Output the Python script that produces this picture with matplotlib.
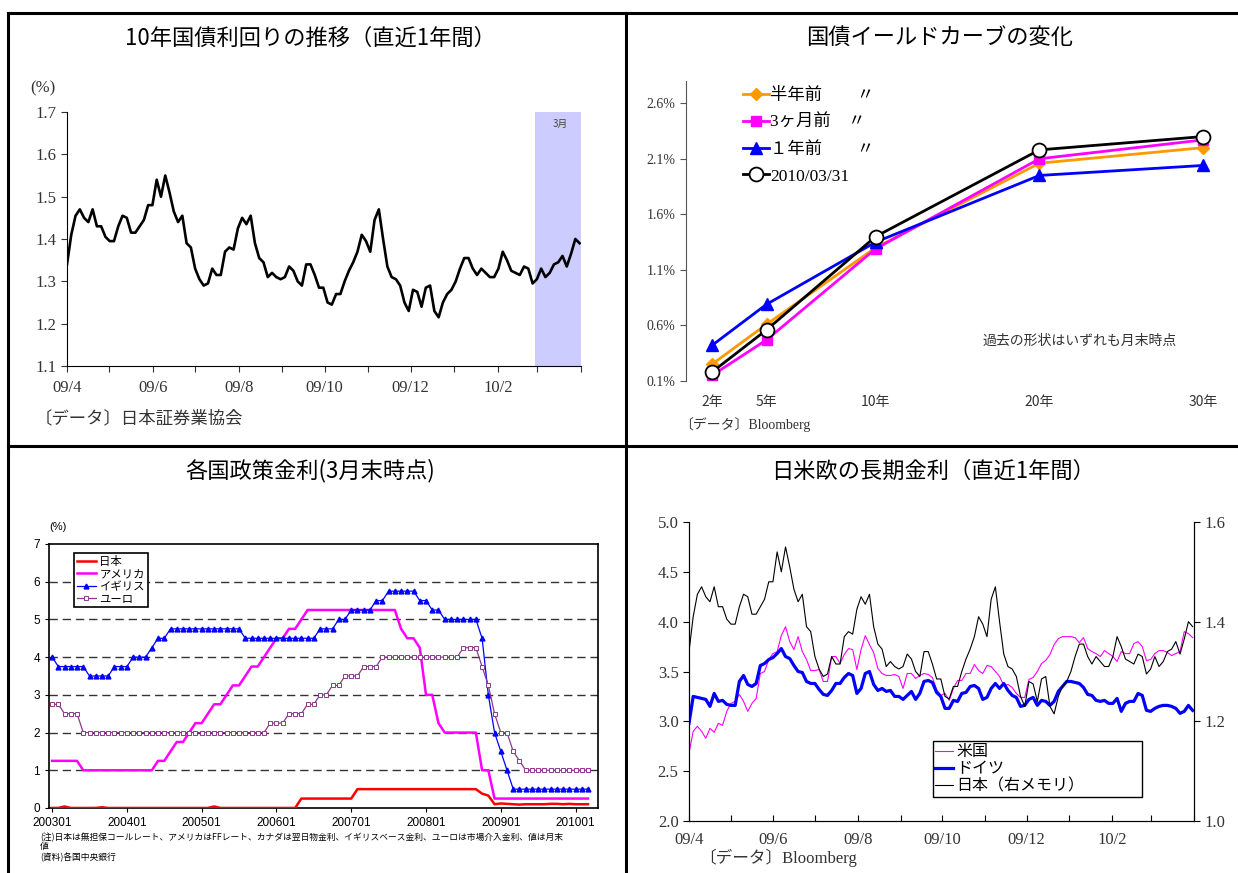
import numpy as np
import pandas as pd
import matplotlib
matplotlib.use('Agg')
import matplotlib.pyplot as plt
from matplotlib.lines import Line2D

plt.rcParams['font.family'] = ['Liberation Serif', 'Noto Sans CJK JP', 'DejaVu Sans']
JP = ['Noto Sans CJK JP', 'DejaVu Sans']
GOTHIC = ['Liberation Sans', 'Noto Sans CJK JP', 'DejaVu Sans']

# 10年国債利回り / 米国 / ドイツ (2009/4 - 2010/3, ~10 obs per month)
jgb10 = [1.34, 1.41, 1.455, 1.47, 1.45, 1.44, 1.47, 1.43, 1.43, 1.405,
         1.395, 1.395, 1.43, 1.455, 1.45, 1.415, 1.415, 1.43, 1.445, 1.48,
         1.48, 1.54, 1.50, 1.55, 1.51, 1.465, 1.44, 1.455, 1.39, 1.38,
         1.33, 1.305, 1.29, 1.295, 1.33, 1.315, 1.315, 1.37, 1.38, 1.375,
         1.425, 1.45, 1.435, 1.455, 1.39, 1.355, 1.345, 1.31, 1.32, 1.31,
         1.305, 1.31, 1.335, 1.325, 1.30, 1.29, 1.34, 1.34, 1.315, 1.285,
         1.285, 1.25, 1.245, 1.27, 1.27, 1.30, 1.325, 1.345, 1.37, 1.41,
         1.395, 1.37, 1.445, 1.47, 1.40, 1.335, 1.31, 1.305, 1.29, 1.25,
         1.23, 1.28, 1.275, 1.24, 1.285, 1.29, 1.23, 1.215, 1.25, 1.27,
         1.28, 1.30, 1.33, 1.355, 1.355, 1.33, 1.315, 1.33, 1.32, 1.31,
         1.31, 1.33, 1.37, 1.35, 1.325, 1.32, 1.315, 1.335, 1.33, 1.295,
         1.305, 1.33, 1.31, 1.32, 1.34, 1.345, 1.36, 1.335, 1.365, 1.40,
         1.39]
ust10 = [2.68, 2.90, 2.95, 2.90, 2.83, 2.93, 2.89, 2.98, 2.96, 3.10,
         3.18, 3.20, 3.27, 3.20, 3.10, 3.18, 3.23, 3.48, 3.50, 3.62,
         3.68, 3.70, 3.86, 3.95, 3.80, 3.72, 3.85, 3.70, 3.62, 3.51,
         3.51, 3.52, 3.40, 3.40, 3.65, 3.65, 3.58, 3.67, 3.73, 3.72,
         3.52, 3.72, 3.86, 3.77, 3.69, 3.53, 3.48, 3.46, 3.46, 3.47,
         3.45, 3.33, 3.48, 3.48, 3.43, 3.46, 3.48, 3.47, 3.44, 3.32,
         3.26, 3.28, 3.21, 3.33, 3.41, 3.41, 3.48, 3.48, 3.57, 3.51,
         3.48, 3.56, 3.55, 3.50, 3.45, 3.36, 3.37, 3.34, 3.28, 3.24,
         3.24, 3.42, 3.44, 3.50, 3.58, 3.61, 3.67, 3.77, 3.83, 3.85,
         3.85, 3.85, 3.84, 3.79, 3.84, 3.73, 3.70, 3.68, 3.65, 3.71,
         3.68, 3.65, 3.60, 3.70, 3.68, 3.68, 3.78, 3.80, 3.75, 3.61,
         3.62, 3.68, 3.71, 3.71, 3.69, 3.66, 3.68, 3.70, 3.90, 3.88,
         3.84]
bund10 = [2.98, 3.25, 3.24, 3.23, 3.22, 3.15, 3.28, 3.20, 3.21, 3.17,
          3.16, 3.16, 3.40, 3.46, 3.37, 3.35, 3.38, 3.56, 3.58, 3.62,
          3.64, 3.68, 3.73, 3.65, 3.63, 3.56, 3.50, 3.49, 3.40, 3.38,
          3.38, 3.32, 3.27, 3.26, 3.31, 3.38, 3.38, 3.44, 3.48, 3.46,
          3.28, 3.33, 3.48, 3.50, 3.37, 3.31, 3.33, 3.30, 3.31, 3.25,
          3.25, 3.22, 3.26, 3.30, 3.22, 3.28, 3.40, 3.41, 3.39, 3.29,
          3.25, 3.13, 3.13, 3.21, 3.20, 3.28, 3.29, 3.35, 3.36, 3.33,
          3.22, 3.24, 3.33, 3.38, 3.33, 3.38, 3.31, 3.26, 3.24, 3.15,
          3.16, 3.22, 3.24, 3.16, 3.21, 3.20, 3.16, 3.20, 3.30, 3.35,
          3.40, 3.40, 3.39, 3.38, 3.34, 3.27, 3.26, 3.21, 3.20, 3.21,
          3.18, 3.18, 3.23, 3.10, 3.18, 3.20, 3.20, 3.28, 3.26, 3.11,
          3.10, 3.13, 3.15, 3.16, 3.16, 3.15, 3.13, 3.08, 3.10, 3.16,
          3.11]
obs_dates = pd.date_range('2009-04-01', '2010-03-31', periods=len(jgb10))

# イールドカーブ
tenors = ['2年', '5年', '10年', '20年', '30年']
curve_6m = [0.25, 0.61, 1.30, 2.06, 2.20]
curve_3m = [0.15, 0.47, 1.29, 2.10, 2.27]
curve_1y = [0.42, 0.79, 1.35, 1.95, 2.04]
curve_now = [0.18, 0.56, 1.40, 2.18, 2.30]
curve_labels = ['半年前\u3000\u3000〃', '3ヶ月前\u3000〃', '１年前\u3000\u3000〃', '2010/03/31']

# 各国政策金利 (月末, 2003/01 - 2010/03)
rate_months = pd.date_range('2003-01-31', '2010-03-31', freq='ME')
rate_jp = ([0.002, 0.002, 0.04, 0.001, 0.001, 0.001, 0.001, 0.002, 0.02, 0.001, 0.001, 0.001]
           + [0.001] * 14 + [0.04] + [0.001] * 13
           + [0.25] * 9 + [0.5] * 20
           + [0.38, 0.33, 0.10, 0.12, 0.11, 0.10, 0.09, 0.10, 0.10, 0.10, 0.10,
              0.11, 0.11, 0.10, 0.11, 0.10, 0.10, 0.10])
rate_us = ([1.25] * 5 + [1.0] * 12 + [1.25] * 2 + [1.5] + [1.75] * 2 + [2.0]
           + [2.25] * 2 + [2.5] + [2.75] * 2 + [3.0] + [3.25] * 2 + [3.5]
           + [3.75] * 2 + [4.0] + [4.25] + [4.5] * 2 + [4.75] * 2 + [5.0]
           + [5.25] * 15 + [4.75] + [4.5] * 2 + [4.25] + [3.0] * 2 + [2.25]
           + [2.0] * 6 + [1.0] * 2 + [0.25] * 16)
rate_uk = ([4.0] + [3.75] * 5 + [3.5] * 4 + [3.75] * 3 + [4.0] * 3 + [4.25]
           + [4.5] * 2 + [4.75] * 12 + [4.5] * 12 + [4.75] * 3 + [5.0] * 2
           + [5.25] * 4 + [5.5] * 2 + [5.75] * 5 + [5.5] * 2 + [5.25] * 2
           + [5.0] * 6 + [4.5, 3.0, 2.0, 1.5, 1.0] + [0.5] * 13)
rate_eu = ([2.75] * 2 + [2.5] * 3 + [2.0] * 30 + [2.25] * 3 + [2.5] * 3
           + [2.75] * 2 + [3.0] * 2 + [3.25] * 2 + [3.5] * 3 + [3.75] * 3
           + [4.0] * 13 + [4.25] * 3 + [3.75, 3.25, 2.5] + [2.0] * 2
           + [1.5, 1.25] + [1.0] * 11)
rate_names = ['日本', 'アメリカ', 'イギリス', 'ユーロ']

W, H = 1238, 873
fig = plt.figure(figsize=(W / 100, H / 100), dpi=100)


def box(l, t, r, b):
    return [l / W, 1 - b / H, (r - l) / W, (b - t) / H]


month_ticks = pd.date_range('2009-04-01', '2010-04-01', freq='MS')
month_labels = [f"{d:%y}/{d.month}" if i % 2 == 0 and i < 12 else '' for i, d in enumerate(month_ticks)]

# ---- 10年国債利回りの推移
ax1 = fig.add_axes(box(67, 112, 581, 366))
ax1.axvspan(pd.Timestamp('2010-02-27'), pd.Timestamp('2010-04-01'), color='#CCCCFF', lw=0)
ax1.plot(obs_dates, jgb10, color='black', lw=1.9)
ax1.text(pd.Timestamp('2010-03-17'), 1.665, '3月', fontsize=7, color='#444444', family=JP, ha='center')
ax1.set_xlim(month_ticks[0], month_ticks[-1])
ax1.set_ylim(1.1, 1.7)
ax1.set_xticks(month_ticks)
ax1.set_xticklabels(month_labels)
ax1.set_yticks(np.arange(1.1, 1.71, 0.1))
ax1.set_yticklabels([f"{v:.1f}" for v in np.arange(1.1, 1.71, 0.1)])
ax1.tick_params(labelsize=12, length=4, color='#333333', labelcolor='#333333')
ax1.tick_params(axis='x', pad=6)
for s in ['top', 'right']:
    ax1.spines[s].set_visible(False)
fig.text(310 / W, 1 - 38 / H, '10年国債利回りの推移（直近1年間）', fontsize=16, family=JP, ha='center', va='center')
fig.text(30 / W, 1 - 88 / H, '(%)', fontsize=12, va='center', color='#333333')
fig.text(35 / W, 1 - 418 / H, '〔データ〕日本証券業協会', fontsize=12.5, family=JP, va='center', color='#333333')

# ---- 国債イールドカーブの変化
x_slot = [0, 1, 3, 6, 9]  # Excel category slots
ax2 = fig.add_axes(box(686, 81, 1225, 381))
ax2.plot(x_slot, curve_6m, color='#FF9900', lw=2, marker='D', ms=6, clip_on=False, label=curve_labels[0])
ax2.plot(x_slot, curve_3m, color='#FF00FF', lw=2, marker='s', ms=7, clip_on=False, label=curve_labels[1])
ax2.plot(x_slot, curve_1y, color='#0000FF', lw=2, marker='^', ms=8, clip_on=False, label=curve_labels[2])
ax2.plot(x_slot, curve_now, color='black', lw=2, marker='o', ms=10, mfc='white', mec='black', mew=1.3,
         clip_on=False, label=curve_labels[3])
ax2.set_xlim(-0.475, 9.4)
ax2.set_ylim(0.1, 2.8)
ax2.set_xticks(x_slot)
ax2.set_xticklabels(tenors, family=JP)
yt = [0.1, 0.6, 1.1, 1.6, 2.1, 2.6]
ax2.set_yticks(yt)
ax2.set_yticklabels([f"{v:.1f}%" for v in yt])
ax2.tick_params(axis='y', labelsize=10, length=4, color='#555555', labelcolor='#333333')
ax2.tick_params(axis='x', labelsize=10, length=0, pad=10, labelcolor='#333333')
for s in ['top', 'right', 'bottom']:
    ax2.spines[s].set_visible(False)
ax2.spines['left'].set_color('#555555')
leg2 = ax2.legend(loc='upper left', bbox_to_anchor=(0.105, 0.978), frameon=False, fontsize=12.5,
                  handlelength=1.5, handletextpad=0.1, labelspacing=0.62, borderpad=0, borderaxespad=0)
fig.text(940 / W, 1 - 38 / H, '国債イールドカーブの変化', fontsize=16, family=JP, ha='center', va='center')
fig.text(1080 / W, 1 - 341 / H, '過去の形状はいずれも月末時点', fontsize=10, family=JP, ha='center', va='center',
         color='#333333')
fig.text(679 / W, 1 - 425 / H, '〔データ〕Bloomberg', fontsize=10, va='center', color='#333333')

# ---- 各国政策金利
ax3 = fig.add_axes(box(49, 544, 598, 808))
xr = np.arange(len(rate_months))
for v in range(1, 7):
    ax3.axhline(v, color='#333333', lw=1.0, ls=(0, (6, 3.5)), zorder=1)
ax3.plot(xr, rate_jp, color='#FF0000', lw=1.8, label=rate_names[0], zorder=3)
ax3.plot(xr, rate_us, color='#FF00FF', lw=1.8, label=rate_names[1], zorder=3)
ax3.plot(xr, rate_uk, color='#0000FF', lw=0.9, marker='^', ms=3.5, label=rate_names[2], zorder=3)
ax3.plot(xr, rate_eu, color='#8B3A8B', lw=0.9, marker='s', ms=3.2, mfc='white', mec='#8B3A8B', mew=0.7,
         label=rate_names[3], zorder=3)
ax3.set_xlim(-0.5, 87.6)
ax3.set_ylim(0, 7)
jan = [i for i, d in enumerate(rate_months) if d.month == 1]
ax3.set_xticks(jan)
ax3.set_xticklabels([rate_months[i].strftime('%Y%m') for i in jan], family=GOTHIC)
ax3.set_yticks(range(8))
ax3.set_yticklabels([str(v) for v in range(8)], family=GOTHIC)
ax3.tick_params(labelsize=8.5, length=3, width=0.8)
for s in ax3.spines.values():
    s.set_linewidth(1.2)
leg3 = ax3.legend(loc='upper left', bbox_to_anchor=(0.045, 0.966), fancybox=False,
                  edgecolor='black', framealpha=1, handlelength=1.7, handletextpad=0.3, labelspacing=0.2,
                  borderpad=0.25, borderaxespad=0, prop={'family': JP, 'size': 8.2})
leg3.get_frame().set_linewidth(1.2)
fig.text(310 / W, 1 - 471 / H, '各国政策金利(3月末時点)', fontsize=16, family=JP, ha='center', va='center')
fig.text(49 / W, 1 - 527 / H, '(%)', fontsize=8, family=GOTHIC, va='center')
fig.text(40 / W, 1 - 837 / H,
         '(注)日本は無担保コールレート、アメリカはFFレート、カナダは翌日物金利、イギリスベース金利、ユーロは市場介入金利、値は月末',
         fontsize=6.3, family=JP, va='center')
fig.text(40 / W, 1 - 847 / H, '値', fontsize=6.3, family=JP, va='center')
fig.text(40 / W, 1 - 857 / H, '(資料)各国中央銀行', fontsize=6.3, family=JP, va='center')

# ---- 日米欧の長期金利
ax4 = fig.add_axes(box(689, 522, 1194, 821))
l_us, = ax4.plot(obs_dates, ust10, color='#FF00FF', lw=0.8, label='米国')
l_de, = ax4.plot(obs_dates, bund10, color='#0000FF', lw=2.3, label='ドイツ')
ax4r = ax4.twinx()
l_jp, = ax4r.plot(obs_dates, jgb10, color='black', lw=0.8, label='日本（右メモリ）')
ax4.set_xlim(month_ticks[0], month_ticks[-1])
ax4.set_ylim(2.0, 5.0)
ax4r.set_ylim(1.0, 1.6)
ax4.set_xticks(month_ticks)
ax4.set_xticklabels(month_labels)
lt = np.arange(2.0, 5.01, 0.5)
ax4.set_yticks(lt)
ax4.set_yticklabels([f"{v:.1f}" for v in lt])
rt = np.arange(1.0, 1.61, 0.2)
ax4r.set_yticks(rt)
ax4r.set_yticklabels([f"{v:.1f}" for v in rt])
ax4.tick_params(labelsize=12, length=4, labelcolor='#333333')
ax4.tick_params(axis='x', direction='in', pad=8)
ax4r.tick_params(labelsize=12, length=4, labelcolor='#333333')
ax4.spines['top'].set_visible(False)
ax4r.spines['top'].set_visible(False)
leg4 = ax4r.legend([l_us, l_de, l_jp], ['米国', 'ドイツ', '日本（右メモリ）'], loc='upper left',
                   bbox_to_anchor=(0.483, 0.078, 0.414, 0.19), mode='expand', fancybox=False,
                   edgecolor='black', framealpha=1, handlelength=1.1, handletextpad=0.2, labelspacing=0.0,
                   borderpad=0.15, borderaxespad=0, prop={'family': JP, 'size': 11.5})
leg4.get_frame().set_linewidth(1.0)
fig.text(933 / W, 1 - 471 / H, '日米欧の長期金利（直近1年間）', fontsize=16, family=JP, ha='center', va='center')
fig.text(699 / W, 1 - 858 / H, '〔データ〕Bloomberg', fontsize=12, va='center', color='#333333')

# table frame
frame = dict(transform=fig.transFigure, color='black', lw=2.2)
fig.add_artist(Line2D([8 / W, 1], [1 - 13 / H, 1 - 13 / H], **frame))
fig.add_artist(Line2D([8 / W, 8 / W], [0, 1 - 13 / H], **frame))
fig.add_artist(Line2D([626 / W, 626 / W], [0, 1 - 13 / H], **frame))
fig.add_artist(Line2D([8 / W, 1], [1 - 446 / H, 1 - 446 / H], **frame))

fig.savefig('out.png', dpi=100)
